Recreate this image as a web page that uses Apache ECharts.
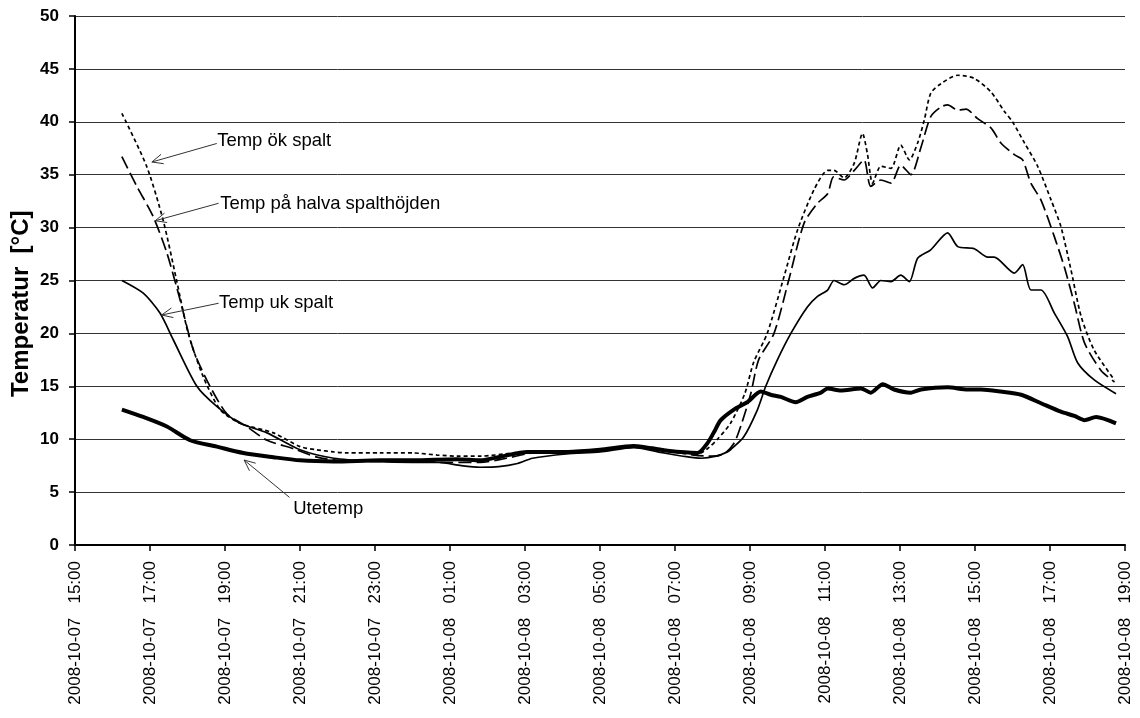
<!DOCTYPE html>
<html>
<head>
<meta charset="utf-8">
<script src="https://cdn.jsdelivr.net/npm/echarts@6/dist/echarts.min.js"></script>
<style>
html,body{margin:0;padding:0;background:#fff;}
#c{width:1140px;height:718px;}
</style>
</head>
<body>
<div id="c"></div>
<script>
// Hours after 2008-10-07 15:00
const okTime = [1.25,1.91,2.35,2.71,3.02,3.42,3.87,4.4,5.29,6.0,6.45,6.9,7.25,8.14,9.02,9.66,10.19,10.81,11.7,12.06,13.13,14.0,14.9,15.8,16.6,16.9,17.13,17.48,17.86,18.1,18.46,18.91,19.27,19.71,20.07,20.24,20.51,20.78,21.0,21.13,21.27,21.49,21.76,22.02,22.25,22.47,22.65,22.82,23.09,23.54,23.98,24.43,24.78,25.0,25.32,25.67,26.03,26.29,26.56,26.83,27.18,27.72];
const okTemp = [40.8,35.8,30.7,25.0,20.0,15.9,12.8,11.5,10.6,9.3,9.0,8.8,8.7,8.7,8.7,8.5,8.4,8.4,8.7,8.8,8.8,9.0,9.4,9.0,8.6,9.2,10.0,11.5,14.3,17.3,20.0,25.4,29.8,33.6,35.4,35.4,34.7,36.1,38.9,37.0,34.2,35.8,35.6,37.8,36.4,38.0,40.2,42.7,43.6,44.4,44.1,42.8,41.0,40.0,38.0,35.8,32.6,30.1,26.0,21.6,18.4,15.6];

const halvaTime = [1.25,1.65,2.09,2.45,2.8,3.16,3.6,4.05,4.58,5.12,5.83,6.45,7.0,8.0,9.0,10.0,10.8,11.5,12.2,13.1,14.0,14.9,15.8,16.5,17.0,17.3,17.57,17.75,18.02,18.23,18.64,19.03,19.44,19.8,20.07,20.23,20.51,20.78,21.04,21.22,21.49,21.76,22.02,22.29,22.56,22.82,23.09,23.27,23.54,23.76,24.07,24.43,24.69,25.05,25.27,25.49,25.76,26.12,26.38,26.65,26.92,27.36,27.72];
const halvaTemp = [36.7,33.9,31.0,27.6,23.2,18.4,15.0,12.4,11.2,9.9,9.1,8.3,8.0,7.9,7.9,7.8,7.8,8.2,8.7,8.8,9.0,9.3,8.9,8.5,8.4,8.6,9.6,11.2,14.3,17.5,20.0,25.0,30.4,32.3,33.2,34.8,34.5,35.4,36.4,33.9,34.5,34.2,35.9,35.0,37.6,40.5,41.4,41.6,41.1,41.2,40.3,39.4,38.0,36.9,36.4,34.2,32.6,29.1,26.3,22.8,19.1,16.5,15.4];

const ukTime = [1.25,1.82,2.27,2.62,3.25,3.78,4.4,5.12,6.0,6.9,8.0,9.0,9.7,10.3,10.8,11.3,11.8,12.2,13.1,14.0,14.9,15.7,16.3,16.7,17.1,17.4,17.48,17.83,18.2,18.42,18.73,19.09,19.53,19.8,20.07,20.24,20.51,20.78,21.04,21.27,21.49,21.76,22.02,22.25,22.47,22.82,23.27,23.54,23.98,24.34,24.51,25.05,25.27,25.49,25.76,26.12,26.47,26.74,27.18,27.76];
const ukTemp = [25.0,23.8,21.9,19.4,15.0,13.1,11.5,10.6,9.0,8.2,7.9,7.8,7.8,7.5,7.35,7.4,7.7,8.2,8.6,8.8,9.2,8.7,8.35,8.2,8.4,8.8,9.0,10.2,12.8,15.0,17.5,20.0,22.5,23.5,24.1,25.0,24.6,25.2,25.5,24.3,25.0,24.9,25.5,24.9,27.1,27.9,29.5,28.2,28.0,27.2,27.2,25.7,26.5,24.1,24.1,21.9,19.7,17.2,15.6,14.3];

const uteTime = [1.25,1.82,2.45,3.07,3.78,4.49,5.29,6.0,6.9,8.14,9.02,10.19,10.81,11.35,12.06,13.13,14.0,14.9,15.8,16.6,16.86,17.03,17.22,17.57,17.93,18.29,18.55,18.82,19.22,19.53,19.89,20.07,20.42,20.96,21.22,21.54,21.84,22.29,22.56,23.27,23.8,24.16,24.69,25.23,25.76,26.29,26.65,26.92,27.23,27.76];
const uteTemp = [12.8,12.1,11.2,9.9,9.3,8.7,8.3,8.0,7.9,8.0,8.0,8.1,8.0,8.35,8.8,8.8,9.0,9.36,8.9,8.7,9.6,10.6,11.8,12.8,13.5,14.5,14.2,14.0,13.5,14.0,14.4,14.8,14.6,14.8,14.4,15.2,14.7,14.4,14.7,14.9,14.7,14.7,14.5,14.2,13.4,12.6,12.2,11.8,12.1,11.5];

const seriesNames = ['Temp ök spalt','Temp på halva spalthöjden','Temp uk spalt','Utetemp'];
const yTicks = [0,5,10,15,20,25,30,35,40,45,50];
const xStart = {y:2008,m:10,d:7,h:15};
const xSpanHours = 28;
const yName = 'Temperatur  [°C]';

// annotations: label text, text anchor [h,T], arrow start [h,T], arrow tip [h,T]
const annotations = [
  {text:'Temp ök spalt', textAt:[3.79,38.2], from:[3.78,37.95], to:[2.05,36.2]},
  {text:'Temp på halva spalthöjden', textAt:[3.87,32.2], from:[3.83,32.3], to:[2.14,30.65]},
  {text:'Temp uk spalt', textAt:[3.84,22.9], from:[3.83,22.85], to:[2.31,21.74]},
  {text:'Utetemp', textAt:[5.82,3.4], from:[5.72,4.5], to:[4.51,8.03]}
];

const FONT = '"Liberation Sans", Arial, sans-serif';
function pad(n){return (n<10?'0':'')+n;}
function fmtX(v){
  const total = xStart.h + v;
  const day = xStart.d + Math.floor(total/24);
  const hr = ((total % 24)+24)%24;
  return xStart.y + '-' + xStart.m + '-' + pad(day) + '   ' + pad(Math.round(hr)) + ':00';
}
function zip(a,b){return a.map((t,i)=>[t,b[i]]);}

const chart = echarts.init(document.getElementById('c'), null, {renderer:'canvas'});
const mk = (name, t, v, style) => ({
  name, type:'line', data: zip(t,v), showSymbol:false, symbol:'none', smooth:0.25,
  lineStyle: Object.assign({color:'#000'}, style), z: 3
});
chart.setOption({
  animation:false,
  backgroundColor:'#fff',
  grid:{left:75, right:15, top:16, bottom:173, containLabel:false},
  xAxis:{
    type:'value', min:0, max:xSpanHours, interval:2,
    axisLine:{lineStyle:{color:'#000', width:2}},
    axisTick:{show:true, length:6, lineStyle:{color:'#000', width:1.5}},
    axisLabel:{rotate:90, margin:16, fontFamily:FONT, fontSize:17, color:'#000', formatter:fmtX},
    splitLine:{show:false}
  },
  yAxis:{
    type:'value', min:yTicks[0], max:yTicks[yTicks.length-1], interval:yTicks[1]-yTicks[0],
    axisLine:{show:true, lineStyle:{color:'#000', width:2}},
    axisTick:{show:true, length:6, lineStyle:{color:'#000', width:1.5}},
    axisLabel:{margin:16, fontFamily:FONT, fontSize:17, fontWeight:'bold', color:'#000'},
    splitLine:{show:true, lineStyle:{color:'#333', width:1}}
  },
  series:[
    mk(seriesNames[0], okTime, okTemp, {width:1.7, type:[4,3]}),
    mk(seriesNames[1], halvaTime, halvaTemp, {width:1.7, type:[13,5]}),
    mk(seriesNames[2], ukTime, ukTemp, {width:1.7, type:'solid'}),
    mk(seriesNames[3], uteTime, uteTemp, {width:4, type:'solid'})
  ]
});

function drawAnnotations(){
  const els = [];
  annotations.forEach(a=>{
    const p0 = chart.convertToPixel({gridIndex:0}, a.from);
    const p1 = chart.convertToPixel({gridIndex:0}, a.to);
    const pt = chart.convertToPixel({gridIndex:0}, a.textAt);
    els.push({type:'line', shape:{x1:p0[0],y1:p0[1],x2:p1[0],y2:p1[1]}, style:{stroke:'#333', lineWidth:1}, z:10});
    const ang = Math.atan2(p0[1]-p1[1], p0[0]-p1[0]);
    const L = 12, spread = 0.42;
    [ang-spread, ang+spread].forEach(q=>{
      els.push({type:'line', shape:{x1:p1[0],y1:p1[1],x2:p1[0]+L*Math.cos(q),y2:p1[1]+L*Math.sin(q)}, style:{stroke:'#333', lineWidth:1}, z:10});
    });
    els.push({type:'text', x:pt[0], y:pt[1], style:{text:a.text, fontFamily:FONT, fontSize:18.5, fill:'#000', textAlign:'left', textVerticalAlign:'middle'}, z:10});
  });
  // y-axis title, placed relative to the axis
  const pn = chart.convertToPixel({gridIndex:0}, [0, 22.8]);
  els.push({type:'text', x:pn[0]-54, y:pn[1], rotation:Math.PI/2,
    style:{text:yName, fontFamily:FONT, fontSize:24, fontWeight:'bold', fill:'#000', textAlign:'center', textVerticalAlign:'middle'}, z:10});
  chart.setOption({graphic:els});
}
drawAnnotations();
</script>
</body>
</html>
